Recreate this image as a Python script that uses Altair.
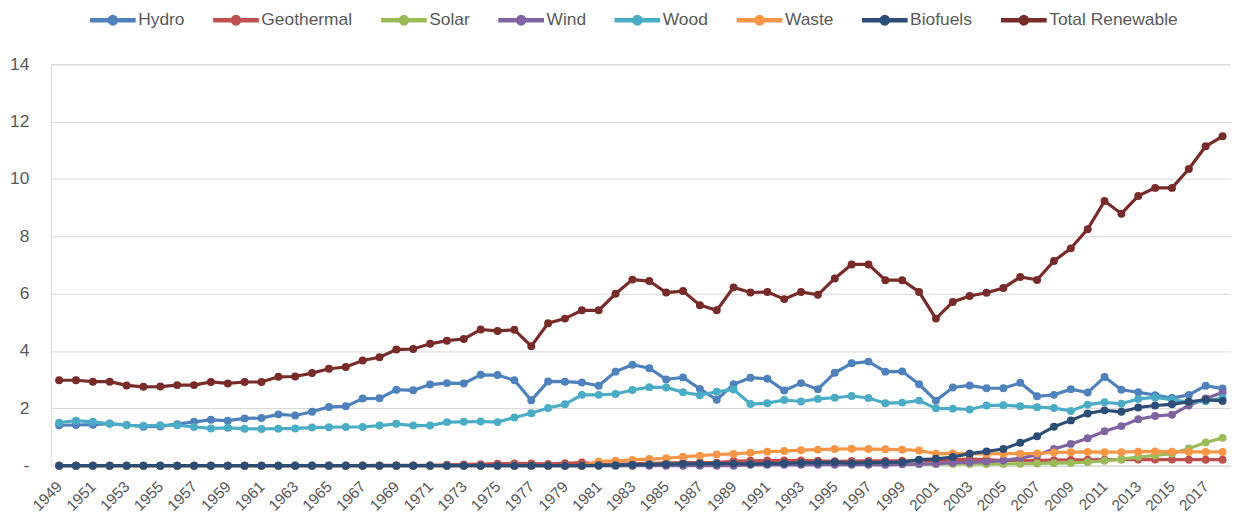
import altair as alt
import pandas as pd

years = list(range(1949, 2019))

series_names = ["Hydro", "Geothermal", "Solar", "Wind", "Wood", "Waste", "Biofuels", "Total Renewable"]
series_colors = ["#4F81BD", "#C0504D", "#9BBB59", "#8064A2", "#4BACC6", "#F79646", "#2C4D75", "#772C2A"]

hydro = [1.41, 1.42, 1.43, 1.47, 1.42, 1.36, 1.37, 1.45, 1.53, 1.60,
         1.57, 1.65, 1.66, 1.79, 1.75, 1.88, 2.05, 2.07, 2.34, 2.35,
         2.65, 2.63, 2.83, 2.88, 2.87, 3.17, 3.16, 2.98, 2.28, 2.94,
         2.93, 2.90, 2.79, 3.28, 3.52, 3.40, 3.01, 3.08, 2.68, 2.30,
         2.84, 3.07, 3.03, 2.62, 2.88, 2.67, 3.24, 3.57, 3.63, 3.28,
         3.29, 2.84, 2.27, 2.73, 2.80, 2.70, 2.70, 2.89, 2.42, 2.47,
         2.67, 2.55, 3.09, 2.65, 2.56, 2.46, 2.36, 2.47, 2.79, 2.69]

geothermal = [0, 0, 0, 0, 0, 0, 0, 0, 0, 0,
              0, 0.001, 0.002, 0.002, 0.004, 0.004, 0.004, 0.004, 0.007, 0.009,
              0.013, 0.011, 0.012, 0.031, 0.043, 0.053, 0.070, 0.078, 0.077, 0.064,
              0.084, 0.110, 0.059, 0.051, 0.064, 0.081, 0.097, 0.108, 0.112, 0.106,
              0.162, 0.171, 0.178, 0.179, 0.186, 0.173, 0.152, 0.163, 0.167, 0.168,
              0.171, 0.164, 0.164, 0.200, 0.230, 0.210, 0.181, 0.181, 0.186, 0.192,
              0.200, 0.208, 0.212, 0.212, 0.214, 0.214, 0.212, 0.210, 0.210, 0.209]

solar = [0, 0, 0, 0, 0, 0, 0, 0, 0, 0,
         0, 0, 0, 0, 0, 0, 0, 0, 0, 0,
         0, 0, 0, 0, 0, 0, 0, 0, 0, 0,
         0, 0, 0, 0, 0, 0.055, 0.059, 0.060, 0.057, 0.057,
         0.059, 0.060, 0.063, 0.064, 0.066, 0.065, 0.068, 0.068, 0.068, 0.066,
         0.065, 0.063, 0.062, 0.060, 0.058, 0.060, 0.063, 0.068, 0.076, 0.089,
         0.098, 0.126, 0.171, 0.227, 0.300, 0.360, 0.420, 0.600, 0.810, 0.970]

wind = [0, 0, 0, 0, 0, 0, 0, 0, 0, 0,
        0, 0, 0, 0, 0, 0, 0, 0, 0, 0,
        0, 0, 0, 0, 0, 0, 0, 0, 0, 0,
        0, 0, 0, 0, 0, 0, 0, 0, 0, 0,
        0, 0.029, 0.031, 0.030, 0.031, 0.036, 0.033, 0.033, 0.034, 0.031,
        0.046, 0.057, 0.070, 0.105, 0.115, 0.142, 0.178, 0.264, 0.370, 0.580,
        0.760, 0.960, 1.200, 1.380, 1.620, 1.730, 1.780, 2.100, 2.343, 2.550]

wood = [1.50, 1.57, 1.53, 1.46, 1.41, 1.39, 1.41, 1.41, 1.35, 1.30,
        1.32, 1.29, 1.28, 1.29, 1.30, 1.33, 1.34, 1.35, 1.35, 1.40,
        1.46, 1.40, 1.40, 1.52, 1.53, 1.54, 1.52, 1.68, 1.83, 2.01,
        2.14, 2.47, 2.47, 2.50, 2.64, 2.74, 2.73, 2.56, 2.46, 2.58,
        2.66, 2.15, 2.18, 2.29, 2.24, 2.33, 2.37, 2.43, 2.36, 2.18,
        2.20, 2.27, 2.00, 1.99, 1.96, 2.10, 2.11, 2.07, 2.04, 2.01,
        1.91, 2.13, 2.21, 2.16, 2.33, 2.38, 2.30, 2.22, 2.25, 2.36]

waste = [0, 0, 0, 0, 0, 0, 0, 0, 0, 0,
         0, 0, 0, 0, 0, 0, 0, 0, 0, 0,
         0, 0.002, 0.002, 0.002, 0.002, 0.002, 0.002, 0.002, 0.002, 0.002,
         0.002, 0.002, 0.150, 0.170, 0.200, 0.230, 0.260, 0.310, 0.350, 0.390,
         0.410, 0.450, 0.490, 0.510, 0.540, 0.560, 0.580, 0.590, 0.580, 0.570,
         0.560, 0.530, 0.420, 0.430, 0.420, 0.410, 0.420, 0.420, 0.430, 0.460,
         0.470, 0.480, 0.470, 0.470, 0.490, 0.500, 0.490, 0.480, 0.480, 0.480]

biofuels = [0, 0, 0, 0, 0, 0, 0, 0, 0, 0,
            0, 0, 0, 0, 0, 0, 0, 0, 0, 0,
            0, 0, 0, 0, 0, 0, 0, 0, 0, 0,
            0, 0, 0.013, 0.019, 0.035, 0.043, 0.052, 0.064, 0.072, 0.069,
            0.072, 0.064, 0.072, 0.083, 0.097, 0.109, 0.118, 0.090, 0.105, 0.117,
            0.122, 0.210, 0.240, 0.300, 0.420, 0.500, 0.580, 0.800, 1.030, 1.360,
            1.580, 1.820, 1.930, 1.880, 2.030, 2.100, 2.140, 2.230, 2.300, 2.260]

total = [2.98, 2.98, 2.93, 2.93, 2.80, 2.75, 2.76, 2.81, 2.81, 2.92,
         2.87, 2.92, 2.92, 3.10, 3.11, 3.23, 3.38, 3.44, 3.67, 3.78,
         4.05, 4.07, 4.25, 4.36, 4.42, 4.75, 4.70, 4.74, 4.17, 4.97,
         5.13, 5.42, 5.42, 6.00, 6.49, 6.44, 6.04, 6.09, 5.60, 5.42,
         6.22, 6.04, 6.06, 5.81, 6.06, 5.96, 6.53, 7.02, 7.02, 6.47,
         6.47, 6.06, 5.13, 5.71, 5.92, 6.03, 6.20, 6.58, 6.48, 7.14,
         7.58, 8.25, 9.23, 8.79, 9.41, 9.69, 9.69, 10.35, 11.14, 11.49]

values = [hydro, geothermal, solar, wind, wood, waste, biofuels, total]

rows = []
for name, vals in zip(series_names, values):
    for y, v in zip(years, vals):
        rows.append({"Year": y, "Series": name, "Value": v})
df = pd.DataFrame(rows)

y_ticks = [0, 2, 4, 6, 8, 10, 12, 14]
x_label_years = [y for y in years if (y - 1949) % 2 == 0]

FONT = "Liberation Sans"
TEXT_COLOR = "#595959"
GRID = "#D9D9D9"

legend_path = ("M-1,0L1,0M0.14,0A0.14,0.14,0,1,1,-0.14,0"
               "A0.14,0.14,0,1,1,0.14,0Z")

color = alt.Color(
    "Series:N",
    scale=alt.Scale(domain=series_names, range=series_colors),
    sort=series_names,
    legend=alt.Legend(
        title=None,
        orient="none",
        direction="horizontal",
        legendX=37,
        legendY=-70,
        symbolType=legend_path,
        symbolSize=2116,
        symbolStrokeWidth=4.5,
        labelFont=FONT,
        labelFontSize=17.5,
        labelColor=TEXT_COLOR,
        labelOffset=0,
        columnPadding=19,
    ),
)

x_enc = alt.X(
    "Year:O",
    scale=alt.Scale(type="point", padding=0.5),
    axis=alt.Axis(
        title=None,
        values=x_label_years,
        labelAngle=-45,
        labelAlign="right",
        labelBaseline="middle",
        labelFont=FONT,
        labelFontSize=15.5,
        labelColor=TEXT_COLOR,
        labelPadding=18,
        ticks=False,
        domainColor=GRID,
        grid=False,
    ),
)

y_enc = alt.Y(
    "Value:Q",
    scale=alt.Scale(domain=[0, 14], nice=False, zero=True),
    axis=alt.Axis(
        title=None,
        values=y_ticks,
        labelExpr="datum.value == 0 ? '-' : datum.label",
        labelFont=FONT,
        labelFontSize=17.5,
        labelColor=TEXT_COLOR,
        labelPadding=22,
        ticks=False,
        domain=False,
        gridColor=GRID,
        gridWidth=1,
    ),
)

layers = []
for name in series_names:
    layers.append(
        alt.Chart(df)
        .transform_filter(alt.datum.Series == name)
        .mark_line(
            strokeWidth=3.2,
            point=alt.OverlayMarkDef(size=64, filled=True, opacity=1),
        )
        .encode(x=x_enc, y=y_enc, color=color)
    )

chart = (
    alt.layer(*layers)
    .properties(
        width=1188,
        height=404,
        autosize=alt.AutoSizeParams(type="none"),
        padding={"left": 43, "top": 55, "right": 0, "bottom": 54},
    )
    .configure_view(stroke=None)
    .configure(background="white")
)

chart.save("out.html", embed_options={"renderer": "svg", "actions": False})
